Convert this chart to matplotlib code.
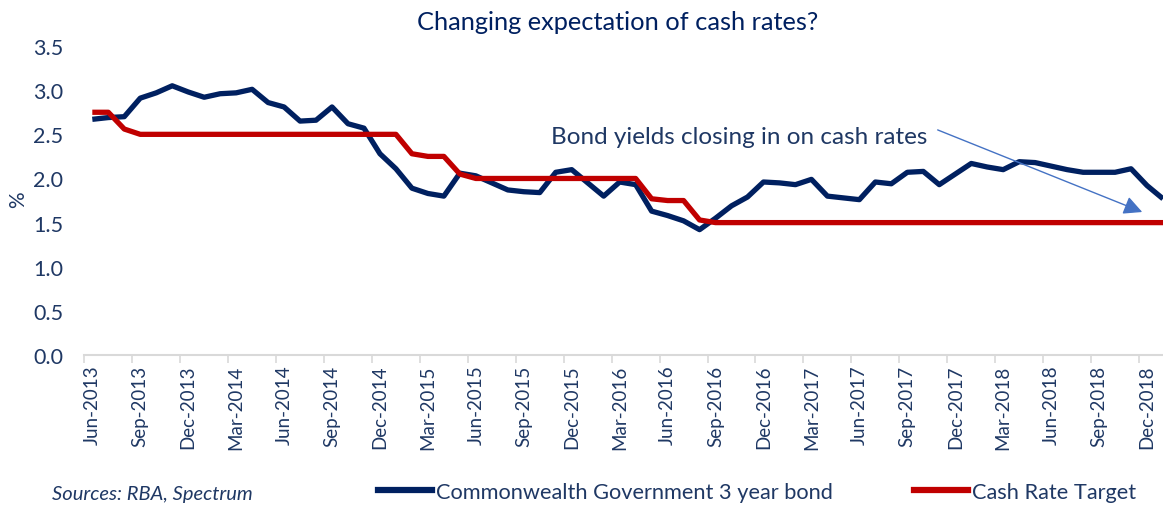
#import libraries
import matplotlib
matplotlib.use('Agg')
import matplotlib.pyplot as plt
from matplotlib.lines import Line2D

#chart data, monthly from Jun-2013 to Jan-2019
bond_3yr = [2.67, 2.69, 2.70, 2.91, 2.97, 3.05, 2.98, 2.92, 2.96, 2.97,
            3.01, 2.86, 2.81, 2.65, 2.66, 2.81, 2.62, 2.57, 2.28, 2.11,
            1.89, 1.83, 1.80, 2.06, 2.03, 1.95, 1.87, 1.85, 1.84, 2.07,
            2.10, 1.95, 1.80, 1.96, 1.93, 1.63, 1.58, 1.52, 1.42, 1.55,
            1.69, 1.79, 1.96, 1.95, 1.93, 1.99, 1.80, 1.78, 1.76, 1.96,
            1.94, 2.07, 2.08, 1.93, 2.05, 2.17, 2.13, 2.10, 2.19, 2.18,
            2.14, 2.10, 2.07, 2.07, 2.07, 2.11, 1.92, 1.77]

cash_rate = [2.75, 2.75, 2.56, 2.50, 2.50, 2.50, 2.50, 2.50, 2.50, 2.50,
             2.50, 2.50, 2.50, 2.50, 2.50, 2.50, 2.50, 2.50, 2.50, 2.50,
             2.28, 2.25, 2.25, 2.05, 2.00, 2.00, 2.00, 2.00, 2.00, 2.00,
             2.00, 2.00, 2.00, 2.00, 2.00, 1.77, 1.75, 1.75, 1.53, 1.50,
             1.50, 1.50, 1.50, 1.50, 1.50, 1.50, 1.50, 1.50, 1.50, 1.50,
             1.50, 1.50, 1.50, 1.50, 1.50, 1.50, 1.50, 1.50, 1.50, 1.50,
             1.50, 1.50, 1.50, 1.50, 1.50, 1.50, 1.50, 1.50]

tick_labels = ['Jun-2013', 'Sep-2013', 'Dec-2013', 'Mar-2014', 'Jun-2014',
               'Sep-2014', 'Dec-2014', 'Mar-2015', 'Jun-2015', 'Sep-2015',
               'Dec-2015', 'Mar-2016', 'Jun-2016', 'Sep-2016', 'Dec-2016',
               'Mar-2017', 'Jun-2017', 'Sep-2017', 'Dec-2017', 'Mar-2018',
               'Jun-2018', 'Sep-2018', 'Dec-2018']

bond_name = 'Commonwealth Government 3 year bond'
cash_name = 'Cash Rate Target'

#colours
navy = '#002060'
red = '#C00000'
text_col = '#1F3864'
grey = '#D9D9D9'


def main():
    plt.rcParams['font.family'] = ['Lato', 'DejaVu Sans']

    fig = plt.figure(figsize=(11.63, 5.06), dpi=100)
    ax = fig.add_axes([0.0725, 0.2964, 0.9275, 0.6106])

    #points sit in the middle of each month
    xs = [i + 0.5 for i in range(len(bond_3yr))]
    ax.plot(xs, bond_3yr, color=navy, lw=3.8, solid_joinstyle='round',
            solid_capstyle='butt')
    ax.plot(xs, cash_rate, color=red, lw=3.8, solid_joinstyle='round',
            solid_capstyle='butt')

    ax.set_xlim(0, 67.5)
    ax.set_ylim(0, 3.5)

    #tick marks on quarter boundaries, labels under the month
    ax.set_xticks([3 * k for k in range(len(tick_labels))])
    ax.set_xticklabels([])
    ax.set_xticks([3 * k + 0.5 for k in range(len(tick_labels))], minor=True)
    ax.set_xticklabels(tick_labels, minor=True, rotation=90,
                       fontsize=13.5, color=text_col)
    ax.tick_params(axis='x', which='major', direction='out', length=6,
                   width=1.2, color=grey)
    ax.tick_params(axis='x', which='minor', length=0, pad=7)

    ax.set_yticks([0, 0.5, 1.0, 1.5, 2.0, 2.5, 3.0, 3.5])
    ax.set_yticklabels(['%.1f' % v for v in ax.get_yticks()])
    ax.tick_params(axis='y', length=0, labelsize=15.5, labelcolor=text_col,
                   pad=15)

    for side in ['top', 'right', 'left']:
        ax.spines[side].set_visible(False)
    ax.spines['bottom'].set_color(grey)
    ax.spines['bottom'].set_linewidth(1.5)

    fig.text(0.016, 0.605, '%', rotation=90, fontsize=15, color=text_col,
             ha='center', va='center')

    #title
    fig.text(0.531, 0.956, 'Changing expectation of cash rates?',
             fontsize=18.3, color=navy, ha='center', va='center')

    #annotation and arrow
    ax.text(29.2, 2.48, 'Bond yields closing in on cash rates',
            fontsize=17.5, color=text_col, ha='left', va='center')
    ax.annotate('', xy=(66.2, 1.62), xytext=(53.4, 2.55),
                arrowprops=dict(arrowstyle='-|>', color='#4472C4', lw=1,
                                mutation_scale=28, shrinkA=0, shrinkB=0))

    #source note
    fig.text(0.045, 0.022, 'Sources: RBA, Spectrum', fontsize=14.5,
             style='italic', color=text_col, ha='left', va='center')

    #legend
    handles = [Line2D([], [], color=navy, lw=4.5),
               Line2D([], [], color=red, lw=4.5)]
    fig.legend(handles, [bond_name, cash_name], loc='center',
               bbox_to_anchor=(0.651, 0.026), ncol=2, frameon=False,
               fontsize=15.7, handlelength=2.5, handletextpad=0.18,
               columnspacing=3.7, labelcolor=text_col)

    fig.savefig('out.png', dpi=100)


if __name__ == '__main__':
    main()
